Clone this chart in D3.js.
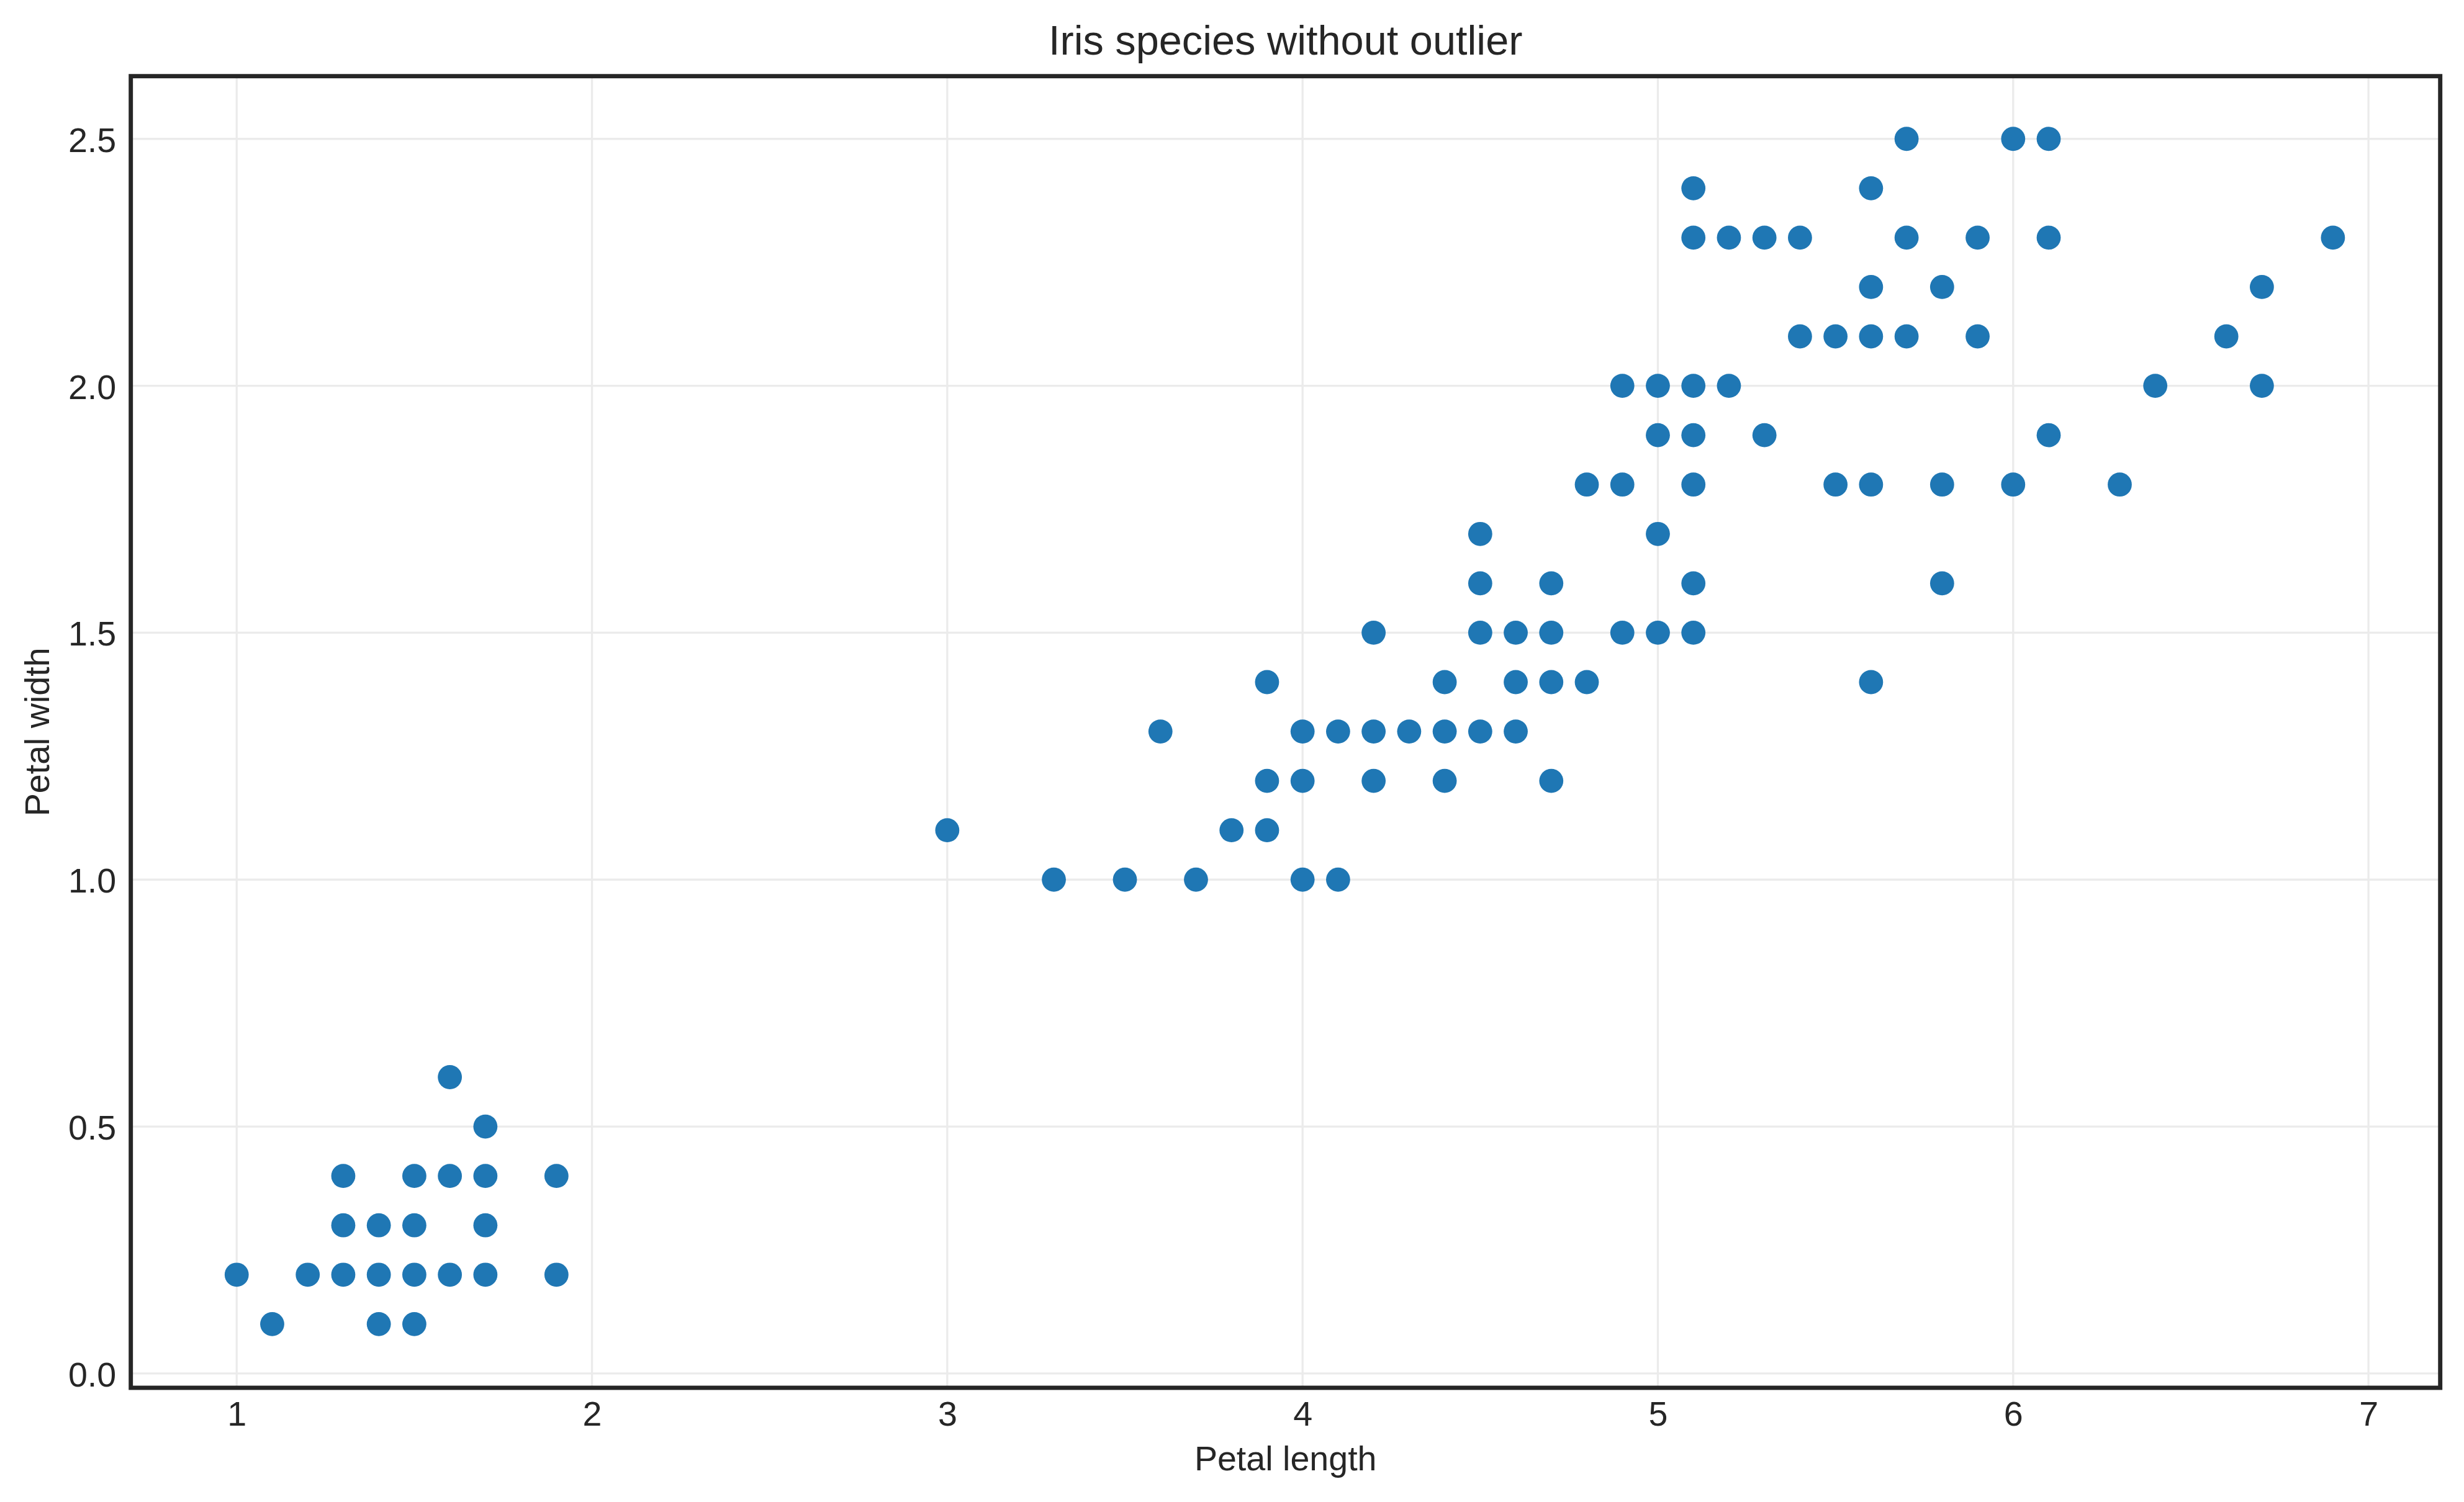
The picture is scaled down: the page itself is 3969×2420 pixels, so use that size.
<!DOCTYPE html>
<html>
<head>
<meta charset="utf-8">
<script src="https://cdn.jsdelivr.net/npm/d3@7"></script>
<style>
	html, body { margin: 0; padding: 0; background: #fff; }
	svg text { font-family: 'Liberation Sans', Arial, sans-serif; fill: #262626; }
</style>
</head>
<body>
<svg id="chart" width="3969" height="2420"></svg>
<script>
const title = 'Iris species without outlier'
const xLabel = 'Petal length'
const yLabel = 'Petal width'

// points, paired by index
const petalLength = [
	1.1, 1.4, 1.5,
	1.0, 1.2, 1.3, 1.4, 1.5, 1.6, 1.7, 1.9,
	1.3, 1.4, 1.5, 1.7,
	1.3, 1.5, 1.6, 1.7, 1.9,
	1.7, 1.6,
	3.3, 3.5, 3.7, 4.0, 4.1,
	3.0, 3.8, 3.9,
	3.9, 4.0, 4.2, 4.4, 4.7,
	3.6, 4.0, 4.1, 4.2, 4.3, 4.4, 4.5, 4.6,
	3.9, 4.4, 4.6, 4.7, 4.8, 5.6,
	4.2, 4.5, 4.6, 4.7, 4.9, 5.0, 5.1,
	4.5, 4.7, 5.1, 5.8,
	4.5, 5.0,
	4.8, 4.9, 5.1, 5.5, 5.6, 5.8, 6.0, 6.3,
	5.0, 5.1, 5.3, 6.1,
	4.9, 5.0, 5.1, 5.2, 6.4, 6.7,
	5.4, 5.5, 5.6, 5.7, 5.9, 6.6,
	5.6, 5.8, 6.7,
	5.1, 5.2, 5.3, 5.4, 5.7, 5.9, 6.1, 6.9,
	5.1, 5.6,
	5.7, 6.0, 6.1
]
const petalWidth = [
	0.1, 0.1, 0.1,
	0.2, 0.2, 0.2, 0.2, 0.2, 0.2, 0.2, 0.2,
	0.3, 0.3, 0.3, 0.3,
	0.4, 0.4, 0.4, 0.4, 0.4,
	0.5, 0.6,
	1.0, 1.0, 1.0, 1.0, 1.0,
	1.1, 1.1, 1.1,
	1.2, 1.2, 1.2, 1.2, 1.2,
	1.3, 1.3, 1.3, 1.3, 1.3, 1.3, 1.3, 1.3,
	1.4, 1.4, 1.4, 1.4, 1.4, 1.4,
	1.5, 1.5, 1.5, 1.5, 1.5, 1.5, 1.5,
	1.6, 1.6, 1.6, 1.6,
	1.7, 1.7,
	1.8, 1.8, 1.8, 1.8, 1.8, 1.8, 1.8, 1.8,
	1.9, 1.9, 1.9, 1.9,
	2.0, 2.0, 2.0, 2.0, 2.0, 2.0,
	2.1, 2.1, 2.1, 2.1, 2.1, 2.1,
	2.2, 2.2, 2.2,
	2.3, 2.3, 2.3, 2.3, 2.3, 2.3, 2.3, 2.3,
	2.4, 2.4,
	2.5, 2.5, 2.5
]

const xTicks = [1, 2, 3, 4, 5, 6, 7]
const yTicks = [0.0, 0.5, 1.0, 1.5, 2.0, 2.5]
const xDomain = [0.702, 7.202]
const yDomain = [-0.029, 2.627]

const plotLeft = 210.7
const plotRight = 3930.7
const plotTop = 122.7
const plotBottom = 2236
const tickSize = 55.6
const pointRadius = 19.4

const svg = d3.select('#chart')

const xScale = d3.scaleLinear()
	.domain(xDomain)
	.range([plotLeft, plotRight])

const yScale = d3.scaleLinear()
	.domain(yDomain)
	.range([plotBottom, plotTop])

const data = petalLength.map((x, i) => ({ x, y: petalWidth[i] }))

// grid
const grid = svg.append('g').attr('class', 'grid')

grid.selectAll('.grid-x')
	.data(xTicks)
	.enter()
	.append('line')
	.attr('x1', d => xScale(d))
	.attr('x2', d => xScale(d))
	.attr('y1', plotTop)
	.attr('y2', plotBottom)
	.attr('stroke', '#ebebeb')
	.attr('stroke-width', 3.3)

grid.selectAll('.grid-y')
	.data(yTicks)
	.enter()
	.append('line')
	.attr('x1', plotLeft)
	.attr('x2', plotRight)
	.attr('y1', d => yScale(d))
	.attr('y2', d => yScale(d))
	.attr('stroke', '#ebebeb')
	.attr('stroke-width', 3.3)

// points
svg.append('g')
	.attr('class', 'points')
	.selectAll('circle')
	.data(data)
	.enter()
	.append('circle')
	.attr('cx', d => xScale(d.x))
	.attr('cy', d => yScale(d.y))
	.attr('r', pointRadius)
	.attr('fill', '#1f77b4')

// frame
svg.append('rect')
	.attr('x', plotLeft)
	.attr('y', plotTop)
	.attr('width', plotRight - plotLeft)
	.attr('height', plotBottom - plotTop)
	.attr('fill', 'none')
	.attr('stroke', '#262626')
	.attr('stroke-width', 6.9)

// tick labels
const xAxis = d3.axisBottom(xScale)
	.tickValues(xTicks)
	.tickFormat(d3.format('d'))
	.tickSize(0)
	.tickPadding(0)

const xg = svg.append('g')
	.attr('transform', `translate(0, ${plotBottom})`)
	.call(xAxis)
xg.select('.domain').remove()
xg.selectAll('text')
	.attr('y', 61)
	.attr('dy', null)
	.style('font-size', tickSize + 'px')
	.style('font-family', "'Liberation Sans', Arial, sans-serif")
	.attr('fill', '#262626')

const yAxis = d3.axisLeft(yScale)
	.tickValues(yTicks)
	.tickFormat(d3.format('.1f'))
	.tickSize(0)
	.tickPadding(0)

const yg = svg.append('g')
	.attr('transform', `translate(${plotLeft}, 0)`)
	.call(yAxis)
yg.select('.domain').remove()
yg.selectAll('text')
	.attr('x', -23.5)
	.attr('dy', null)
	.attr('y', 20.5)
	.style('font-size', tickSize + 'px')
	.style('font-family', "'Liberation Sans', Arial, sans-serif")
	.attr('fill', '#262626')

// labels
svg.append('text')
	.attr('x', (plotLeft + plotRight)/2)
	.attr('y', 88)
	.attr('text-anchor', 'middle')
	.style('font-size', '66.7px')
	.text(title)

svg.append('text')
	.attr('x', (plotLeft + plotRight)/2)
	.attr('y', 2369)
	.attr('text-anchor', 'middle')
	.style('font-size', tickSize + 'px')
	.text(xLabel)

svg.append('text')
	.attr('transform', `translate(79, ${(plotTop + plotBottom)/2}) rotate(-90)`)
	.attr('text-anchor', 'middle')
	.style('font-size', tickSize + 'px')
	.text(yLabel)
</script>
</body>
</html>
